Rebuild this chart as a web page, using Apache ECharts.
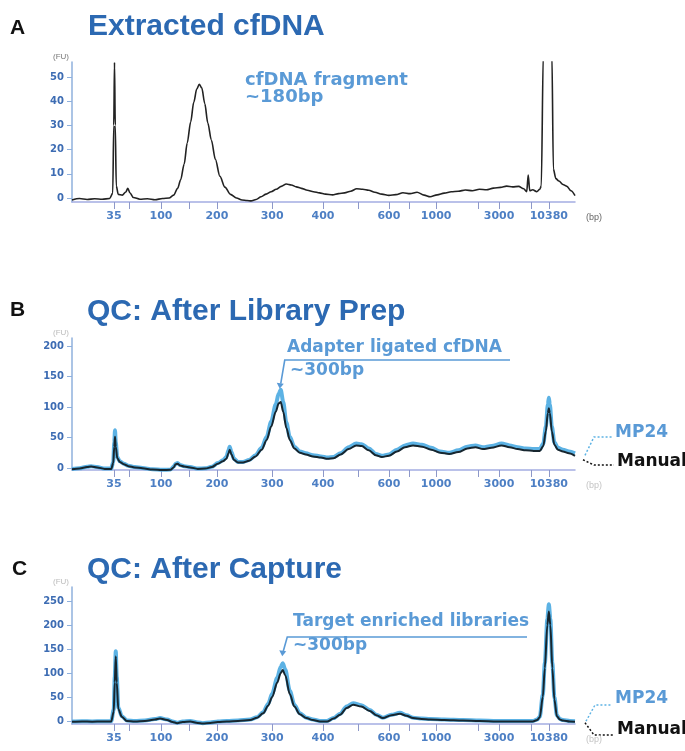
<!DOCTYPE html>
<html><head><meta charset="utf-8">
<script src="https://cdn.jsdelivr.net/npm/echarts@6/dist/echarts.min.js"></script>
<style>html,body{margin:0;padding:0;background:#fff}#c{width:685px;height:751px}</style>
</head><body><div id="c"></div>
<script>
// ---- Size ladder: fragment size (bp) and its migration position (time units, 0-100 across the axis)
const ladderBp   = [35, 50, 100, 150, 200, 300, 400, 500, 600, 700, 1000, 2000, 3000, 7000, 10380];
const ladderTime = [8.35, 11.3, 17.7, 23.3, 28.8, 39.8, 49.9, 56.9, 63.0, 67.0, 72.4, 80.7, 84.9, 91.3, 94.8];
const labeledBp  = [35, 100, 200, 300, 400, 600, 1000, 3000, 10380];

// ---- Y tick labels (FU)
const yTicksA = [0, 10, 20, 30, 40, 50];
const yTicksB = [0, 50, 100, 150, 200];
const yTicksC = [0, 50, 100, 150, 200, 250];

// ---- Panel A: extracted cfDNA  [time, FU]
const extractedCfDNA = [
 [0,-0.8],[1.5,-0.2],[3,-0.6],[4.5,-0.3],[6,-0.5],[7.5,-0.2],[8.1,2],[8.3,30],[8.45,56],[8.6,30],[8.8,5],[9.2,1.5],
 [10.0,1.2],[10.7,2.5],[11.1,4],[11.5,2.2],[12.2,0.2],[13.5,-0.5],[15,-0.3],[16.5,-0.7],[18,-0.2],[19.3,0],
 [20.2,1.2],[21.0,4],[21.6,7.5],[22.3,14],[22.9,22.7],[23.6,31.5],[24.2,39.5],[24.8,45],[25.3,47],[25.8,45.5],
 [26.4,39],[27.0,31],[27.7,24],[28.5,16],[29.4,9],[30.4,4.5],[31.5,1.5],[32.7,0],[33.8,-0.8],[34.8,-1],[35.6,-1.2],
 [36.6,-0.6],[37.6,0.5],[38.6,1.6],[39.6,2.6],[40.6,3.6],[41.6,4.8],[42.6,5.8],[43.6,5.4],[44.6,4.6],[45.6,4],
 [46.8,3.2],[48.0,2.6],[49.2,2.1],[50.4,1.6],[51.8,1.3],[53.0,1.8],[54.2,2.1],[55.4,2.8],[56.6,3.8],[57.8,3.6],
 [59.0,3.2],[60.2,2.4],[61.6,1.6],[63.0,1.1],[64.4,1.4],[65.8,2.2],[67.2,1.8],[68.6,2.4],[70.0,1.2],[71.2,0.5],
 [72.6,1.3],[74.0,2.0],[75.4,2.6],[76.8,2.8],[78.2,3.3],[79.6,3.0],[81.0,3.6],[82.4,3.4],[83.8,4.1],[85.2,4.4],
 [86.4,4.9],[87.6,4.6],[88.8,4.8],[89.8,3.8],[90.4,2.6],[90.7,9.5],[91.0,3.0],[91.6,3.4],[92.4,2.6],[93.0,3.6],
 [93.3,5],[93.7,60],[94.5,100],[95.4,60],[95.7,12],[96.2,8],[96.8,7],[97.6,5.6],[98.4,4.8],[99.2,3],[100,1]
];

// ---- Panel B: after library prep  [time, FU]
const libPrepMP24 = [
 [0,-1.5],[1.5,-0.5],[3.0,2],[3.8,3],[5,1.5],[6.5,-1],[7.8,-1],[8.2,10],[8.4,42],[8.55,62],[8.7,42],[9.0,18],
 [9.5,11],[10.3,7],[11.2,3.5],[12.5,1.5],[14,0],[16,-2],[18,-3],[19.6,-2.5],[20.2,2],[20.6,7],[21.0,8],[21.5,5],
 [22.3,3],[23.5,1.5],[25,-1],[26.5,-0.5],[27.8,2],[29.0,8],[30.0,12.5],[30.7,18],[31.1,29],[31.35,35],[31.7,26],
 [32.2,15],[33.0,10],[34,10],[35.2,13],[36.5,21],[37.7,33],[38.7,51],[39.6,76],[40.5,104],[41.1,122],[41.5,128],
 [42.0,108],[42.6,75],[43.3,51],[44.2,35],[45.3,27],[46.5,24],[47.9,21],[49.5,19],[50.8,17],[52.0,18],[53.4,24],
 [55.0,34],[56.5,40],[57.6,39],[59.0,32],[60.4,23],[61.6,20],[63.0,22],[64.6,30],[66.2,37],[67.8,40],[69.6,38],
 [71.4,33],[73.2,27],[75.0,25],[76.8,29],[78.6,35],[80.2,37],[81.7,34],[83.4,36],[85.4,40],[87.0,37],[88.6,34],
 [90.2,32],[91.8,31],[93.0,31],[93.7,40],[94.2,68],[94.6,104],[94.8,115],[95.0,104],[95.4,68],[95.9,42],[96.6,33],
 [97.6,30],[98.8,27],[100,24]
];
const libPrepManual = [
 [0,-2],[1.5,-1],[3.0,1.5],[3.8,2.5],[5,1],[6.5,-1.5],[7.8,-1.5],[8.2,8],[8.4,35],[8.55,51],[8.7,35],[9.0,16],
 [9.5,10],[10.3,6],[11.2,3],[12.5,1],[14,-0.5],[16,-2.5],[18,-3.5],[19.6,-3],[20.2,1],[20.6,6],[21.0,7],[21.5,4],
 [22.3,2.5],[23.5,1],[25,-1.5],[26.5,-1],[27.8,1.5],[29.0,7],[30.0,11],[30.7,15],[31.1,24],[31.35,30],[31.7,22],
 [32.2,13],[33.0,9],[34,9],[35.2,12],[36.5,19],[37.7,30],[38.7,46],[39.6,68],[40.5,92],[41.1,106],[41.5,108],
 [42.0,92],[42.6,66],[43.3,46],[44.2,32],[45.3,25],[46.5,22],[47.9,19],[49.5,17],[50.8,15],[52.0,16],[53.4,22],
 [55.0,31],[56.5,37],[57.6,36],[59.0,29],[60.4,21],[61.6,18],[63.0,20],[64.6,27],[66.2,34],[67.8,37],[69.6,35],
 [71.4,30],[73.2,25],[75.0,23],[76.8,26],[78.6,32],[80.2,34],[81.7,31],[83.4,33],[85.4,37],[87.0,34],[88.6,31],
 [90.2,29],[91.8,28],[93.0,28],[93.7,36],[94.2,60],[94.6,90],[94.8,98],[95.0,90],[95.4,60],[95.9,38],[96.6,30],
 [97.6,27],[98.8,24],[100,20]
];

// ---- Panel C: after capture  [time, FU]
const captureMP24 = [
 [0,-1],[2,-0.5],[4,-1],[6,-0.5],[7.8,-0.5],[8.3,24],[8.5,92],[8.7,145],[8.9,92],[9.2,28],[9.9,10],[10.9,1],
 [12.5,0],[14.5,1],[16.5,4],[17.5,6],[18.9,3],[20.0,-1],[20.9,-3.5],[22,-1],[23.5,0],[25,-3],[26,-4.5],[27.5,-3],
 [29,-1],[30.8,0],[33,1],[35.4,3],[36.8,8],[38.0,18],[39.0,36],[39.8,57],[40.8,90],[41.5,113],[41.9,120],[42.4,107],
 [43.3,63],[44.2,34],[45.3,16],[46.6,7],[47.9,3],[49.3,0],[50.7,0],[52,6],[53.3,15],[54.6,30],[55.9,37],[57.5,33],
 [59.2,23],[60.5,13],[61.8,7],[63.5,13],[65.2,17],[66.5,12],[67.8,7],[69.5,5],[71.2,4],[74,3],[77.7,2],[81,1],
 [84.5,0],[88,0],[91.6,0],[92.5,3],[93.0,9],[93.6,55],[94.0,120],[94.5,212],[94.8,243],[95.1,212],[95.5,120],
 [95.9,50],[96.4,12],[97.0,4],[97.6,2],[99,0],[100,-0.5]
];
const captureManual = [
 [0,-1.5],[2,-1],[4,-1.5],[6,-1],[7.8,-1],[8.3,20],[8.5,80],[8.7,135],[8.9,80],[9.2,25],[9.9,9],[10.9,0],
 [12.5,-1],[14.5,0],[16.5,3],[17.5,5],[18.9,2],[20.0,-2],[20.9,-4.5],[22,-2],[23.5,-1],[25,-4],[26,-5],[27.5,-4],
 [29,-2],[30.8,-1],[33,0],[35.4,2],[36.8,7],[38.0,16],[39.0,32],[39.8,50],[40.8,80],[41.5,100],[41.9,106],[42.4,95],
 [43.3,56],[44.2,30],[45.3,14],[46.6,6],[47.9,2],[49.3,-1],[50.7,-1],[52,5],[53.3,13],[54.6,27],[55.9,34],[57.5,30],
 [59.2,21],[60.5,12],[61.8,6],[63.5,12],[65.2,15],[66.5,11],[67.8,6],[69.5,4],[71.2,3],[74,2],[77.7,1],[81,0],
 [84.5,-1],[88,-1],[91.6,-1],[92.5,2],[93.0,8],[93.6,50],[94.0,110],[94.5,200],[94.8,228],[95.1,200],[95.5,110],
 [95.9,45],[96.4,10],[97.0,3],[97.6,1],[99,-1],[100,-1.5]
];

// ---- styling
const FONT_T = '"Liberation Sans", Arial, sans-serif';
const FONT_A = '"DejaVu Sans", sans-serif';
const TITLE_BLUE = '#2c69b2';
const NOTE_BLUE = '#5a9ad6';
const MP24_COLOR = '#5cb2e4';
const MANUAL_COLOR = '#17262f';

const labeledTime = labeledBp.map(bp => ladderTime[ladderBp.indexOf(bp)]);
function bpForTime(v) {
  const i = ladderTime.indexOf(v);
  return i >= 0 ? String(ladderBp[i]) : '';
}

function xAxisCfg(gridIndex) {
  return {
    type: 'value', gridIndex, min: 0, max: 100,
    axisLine: { show: true, onZero: false, lineStyle: { color: '#a4ade2', width: 1.5 } },
    axisTick: { show: true, customValues: ladderTime, length: 7, lineStyle: { color: '#8d98c9', width: 1 } },
    axisLabel: { show: true, customValues: labeledTime, formatter: v => bpForTime(v), margin: 9,
      color: '#4d7fc4', fontFamily: FONT_A, fontWeight: 'bold', fontSize: 11 },
    splitLine: { show: false }
  };
}
function yAxisCfg(gridIndex, min, max, ticks, nameColor) {
  return {
    type: 'value', gridIndex, min, max,
    axisLine: { show: true, lineStyle: { color: '#8fb0dd', width: 1.5 } },
    axisTick: { show: true, customValues: ticks, length: 5, lineStyle: { color: '#8fb0dd' } },
    axisLabel: { show: true, customValues: ticks, margin: 8, color: '#3d6cb3',
      fontFamily: FONT_A, fontWeight: 'bold', fontSize: 10 },
    splitLine: { show: false },
    name: '(FU)', nameLocation: 'end', nameGap: 1,
    nameTextStyle: { color: nameColor, fontSize: 8, fontFamily: FONT_T, align: 'right', padding: [0, 3, 0, 0] }
  };
}
function lineSeries(name, data, xi, color, width, z) {
  return {
    name, type: 'line', xAxisIndex: xi, yAxisIndex: xi, data,
    showSymbol: false, smooth: 0.3, smoothMonotone: 'x', clip: true, z,
    lineStyle: { color, width }, emphasis: { disabled: true }
  };
}

const chart = echarts.init(document.getElementById('c'));
chart.setOption({
  animation: false,
  backgroundColor: '#ffffff',
  grid: [
    { left: 72, top: 62, width: 503, height: 140 },
    { left: 72, top: 338, width: 503, height: 132 },
    { left: 72, top: 587, width: 503, height: 137 }
  ],
  xAxis: [xAxisCfg(0), xAxisCfg(1), xAxisCfg(2)],
  yAxis: [
    yAxisCfg(0, -1.65, 56.2, yTicksA, '#777'),
    yAxisCfg(1, -3.3, 213, yTicksB, '#bbb'),
    yAxisCfg(2, -6.25, 279, yTicksC, '#bbb')
  ],
  series: [
    lineSeries('Extracted cfDNA', extractedCfDNA, 0, '#222222', 1.6, 3),
    lineSeries('MP24', libPrepMP24, 1, MP24_COLOR, 4, 2),
    lineSeries('Manual', libPrepManual, 1, MANUAL_COLOR, 2, 3),
    lineSeries('MP24', captureMP24, 2, MP24_COLOR, 4, 2),
    lineSeries('Manual', captureManual, 2, MANUAL_COLOR, 2, 3)
  ]
});

// ---- annotations (text, arrows, legend connectors)
function px(gridIdx, t, fu) { return chart.convertToPixel({ xAxisIndex: gridIdx, yAxisIndex: gridIdx }, [t, fu]); }
function txt(x, y, text, font, fill) {
  return { type: 'text', z: 10, style: { x, y, text, font, fill, verticalAlign: 'middle', align: 'left' } };
}
function bracketArrow(tip, lineY, lineEndX) {
  const startX = tip[0] + 5;
  return [
    { type: 'polyline', z: 10, shape: { points: [[lineEndX, lineY], [startX, lineY], [tip[0] + 1, tip[1] - 5]] },
      style: { stroke: NOTE_BLUE, lineWidth: 1.6, fill: null } },
    { type: 'polygon', z: 10, shape: { points: [[tip[0] - 3, tip[1] - 6], [tip[0] + 4, tip[1] - 5], [tip[0], tip[1]]] },
      style: { fill: NOTE_BLUE } }
  ];
}
function connector(start, mid, endX, color) {
  return { type: 'polyline', z: 10, shape: { points: [start, mid, [endX, mid[1]]] },
    style: { stroke: color, lineWidth: 1.5, lineDash: [2, 2], fill: null } };
}
function bpUnit(gridIdx, color) {
  const p = px(gridIdx, 100, 0);
  const axisY = chart.convertToPixel({ yAxisIndex: gridIdx }, gridIdx === 0 ? -1.65 : gridIdx === 1 ? -3.3 : -6.25);
  return txt(p[0] + 11, axisY + 16, '(bp)', '9px ' + FONT_T, color);
}

const titleFont = 'bold 30px ' + FONT_T;
const letterFont = 'bold 21px ' + FONT_T;
const noteFont = 'bold 18px ' + FONT_A;
const noteFont2 = 'bold 17px ' + FONT_A;

const tipB = px(1, 41.3, 130);
const tipC = px(2, 41.8, 135);
const endBm = px(1, 100, libPrepMP24[libPrepMP24.length - 1][1]);
const endBk = px(1, 100, libPrepManual[libPrepManual.length - 1][1]);
const endCm = px(2, 100, captureMP24[captureMP24.length - 1][1]);
const endCk = px(2, 100, captureManual[captureManual.length - 1][1]);

const graphics = [
  txt(10, 28, 'A', letterFont, '#111'),
  txt(88, 27, 'Extracted cfDNA', titleFont, TITLE_BLUE),
  txt(10, 310, 'B', letterFont, '#111'),
  txt(87, 312, 'QC: After Library Prep', titleFont, TITLE_BLUE),
  txt(12, 569, 'C', letterFont, '#111'),
  txt(87, 570, 'QC: After Capture', titleFont, TITLE_BLUE),

  txt(245, 80, 'cfDNA fragment', noteFont, NOTE_BLUE),
  txt(245, 97, '~180bp', noteFont, NOTE_BLUE),

  txt(287, 348, 'Adapter ligated cfDNA', noteFont2, NOTE_BLUE),
  txt(290, 371, '~300bp', noteFont2, NOTE_BLUE),
  ...bracketArrow(tipB, 360, 510),

  txt(293, 622, 'Target enriched libraries', noteFont2, NOTE_BLUE),
  txt(293, 646, '~300bp', noteFont2, NOTE_BLUE),
  ...bracketArrow(tipC, 637, 527),

  connector([endBm[0] + 10, endBm[1] + 2], [594, 437], 612, MP24_COLOR),
  connector([endBk[0] + 8, endBk[1] + 4], [594, 465], 614, '#111'),
  txt(615, 433, 'MP24', noteFont2, NOTE_BLUE),
  txt(617, 462, 'Manual', noteFont2, '#111'),

  connector([endCm[0] + 11, endCm[1]], [595, 705], 612, MP24_COLOR),
  connector([endCk[0] + 10, endCk[1] + 1], [594, 735], 614, '#111'),
  txt(615, 699, 'MP24', noteFont2, NOTE_BLUE),
  txt(617, 730, 'Manual', noteFont2, '#111'),

  bpUnit(0, '#666'),
  bpUnit(1, '#c4c4c4'),
  bpUnit(2, '#c4c4c4')
];
chart.setOption({ graphic: graphics });
</script>
</body></html>
